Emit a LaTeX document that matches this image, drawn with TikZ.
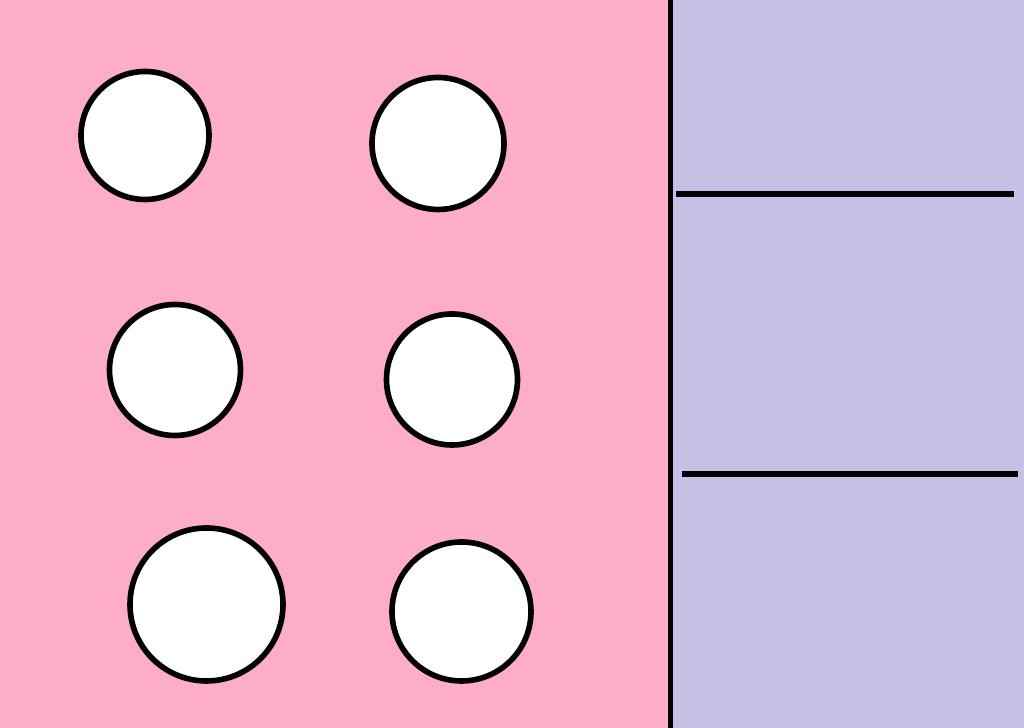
\documentclass[tikz,border=0pt]{standalone}
\usepackage{tikz}

\definecolor{pinkbg}{RGB}{253,173,200}
\definecolor{lavbg}{RGB}{199,191,230}

\begin{document}
\begin{tikzpicture}[line width=1.6pt, hole/.style={draw, circle, fill=white, inner sep=0pt}]
\useasboundingbox (0,0) rectangle (10.24,7.28);
\fill[pinkbg] (0,0) rectangle (6.705,7.28);
\fill[lavbg] (6.705,0) rectangle (10.24,7.28);
\node[hole, minimum size=1.28cm] (h1) at (1.45,5.925) {};
\node[hole, minimum size=1.32cm] (h2) at (4.38,5.845) {};
\node[hole, minimum size=1.31cm] (h3) at (1.75,3.58) {};
\node[hole, minimum size=1.31cm] (h4) at (4.52,3.485) {};
\node[hole, minimum size=1.53cm] (h5) at (2.065,1.235) {};
\node[hole, minimum size=1.39cm] (h6) at (4.615,1.165) {};
\draw (6.705,0) -- (6.705,7.28);
\draw (6.76,5.34) -- (10.14,5.34);
\draw (6.82,2.54) -- (10.18,2.54);
\end{tikzpicture}
\end{document}
